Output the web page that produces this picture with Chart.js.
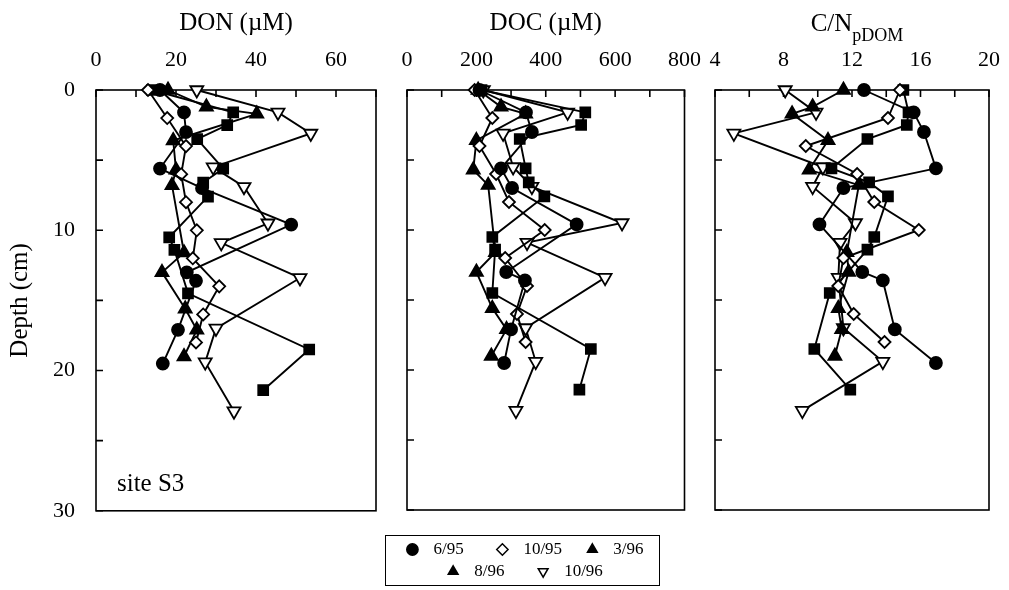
<!DOCTYPE html>
<html>
<head>
<meta charset="utf-8">
<script src="https://cdn.jsdelivr.net/npm/chart.js@4.4.0/dist/chart.umd.min.js"></script>
<style>
    body { margin: 0; background: #fff; width: 1009px; height: 590px; position: relative; overflow: hidden; }
    canvas.panel { position: absolute; top: 0; }
    #legendBox { position: absolute; left: 385px; top: 535px; width: 275px; height: 51px;
                 border: 1.5px solid #000; box-sizing: border-box; overflow: hidden; }
    #legendBox canvas { display: block; }
</style>
</head>
<body>
<canvas id="donChart" class="panel" style="left:0px" width="400" height="537"></canvas>
<canvas id="docChart" class="panel" style="left:380px" width="330" height="530"></canvas>
<canvas id="cnChart" class="panel" style="left:690px" width="319" height="530"></canvas>
<div id="legendBox"><canvas id="legendChart" width="276" height="140"></canvas></div>
<script>
// series labels
const seriesLabels = ['6/95', '10/95', '3/96', '8/96', '10/96'];

// depths (cm) per series
const depth695 = [0, 1.6, 3, 5.6, 7, 9.6, 13, 13.6, 17.1, 19.5];
const depth1095 = [0, 2, 4, 6, 8, 10, 12, 14, 16, 18];
const depth396 = [0, 1.6, 2.5, 3.5, 5.6, 6.6, 7.6, 10.5, 11.4, 14.5, 18.5, 21.4];
const depth896 = [0, 1.2, 1.7, 3.6, 5.7, 6.8, 11.6, 13, 15.6, 17.1, 19];
const depth1096 = [0, 1.6, 3.1, 5.5, 6.9, 9.5, 10.9, 13.4, 17, 19.4, 22.9];

// DON (uM)
const don695 = [16, 22, 22.5, 16, 26.5, 48.8, 22.7, 25, 20.5, 16.7];
const don1095 = [13, 17.8, 22.5, 21.3, 22.5, 25.2, 24.2, 30.8, 26.8, 25];
const don396 = [14, 34.3, 32.8, 25.3, 31.8, 26.8, 28, 18.3, 19.6, 23, 53.3, 41.8];
const don896 = [18, 27.6, 40.2, 19.3, 20, 19, 22, 16.5, 22.3, 25.2, 22];
const don1096 = [25.2, 45.5, 53.7, 29.3, 37, 43, 31.3, 51, 30, 27.3, 34.5];

// DOC (uM)
const doc695 = [209, 343, 360, 271, 303, 489, 286, 340, 300, 280];
const doc1095 = [195, 246, 209, 257, 294, 397, 283, 346, 317, 342];
const doc396 = [215, 514, 502, 325, 342, 351, 396, 246, 254, 246, 530, 497];
const doc896 = [205, 271, 342, 200, 191, 234, 255, 200, 246, 287, 243];
const doc1096 = [220, 463, 277, 306, 360, 620, 346, 571, 342, 371, 314];

// C/N pDOM
const cn695 = [12.7, 15.6, 16.2, 16.9, 11.5, 10.1, 12.6, 13.8, 14.5, 16.9];
const cn1095 = [14.8, 14.1, 9.3, 12.3, 13.3, 15.9, 11.5, 11.2, 12.1, 13.9];
const cn396 = [15, 15.3, 15.2, 12.9, 10.8, 13, 14.1, 13.3, 12.9, 10.7, 9.8, 11.9];
const cn896 = [11.5, 9.7, 8.5, 10.6, 9.5, 12.4, 11.7, 11.8, 11.2, 11.4, 11.0];
const cn1096 = [8.1, 9.9, 5.1, 10.3, 9.7, 12.2, 11.3, 11.2, 11.5, 13.8, 9.1];

// tick labels
const donTicks = [0, 20, 40, 60];
const docTicks = [0, 200, 400, 600, 800];
const cnTicks = [4, 8, 12, 16, 20];
const depthTicks = [0, 10, 20, 30];

const SERIF = '"Liberation Serif", "DejaVu Serif", serif';
const depths = [depth695, depth1095, depth396, depth896, depth1096];

// marker looks: circle, open diamond, square, triangle, open inverted triangle
const markers = [
    { style: 'circle', rot: 0, r: 6, fill: '#000' },
    { style: 'rectRot', rot: 0, r: 6, fill: '#fff' },
    { style: 'rect', rot: 0, r: 7, fill: '#000' },
    { style: 'triangle', rot: 0, r: 7.5, fill: '#000' },
    { style: 'triangle', rot: 180, r: 7.5, fill: '#fff' },
];

const frame = {
    id: 'frame',
    beforeDatasetsDraw(chart) {
        const { ctx, chartArea: a, scales: { x, y } } = chart;
        ctx.save();
        ctx.strokeStyle = '#000';
        ctx.lineWidth = 1.6;
        ctx.strokeRect(a.left, a.top, a.right - a.left, a.bottom - a.top);
        ctx.beginPath();
        x.ticks.forEach(t => {
            const px = x.getPixelForValue(t.value);
            ctx.moveTo(px, a.top);
            ctx.lineTo(px, a.top + 7);
        });
        y.ticks.forEach(t => {
            const py = y.getPixelForValue(t.value);
            ctx.moveTo(a.left, py);
            ctx.lineTo(a.left + 7, py);
        });
        ctx.stroke();
        ctx.restore();
    },
    afterDraw(chart) {
        const extra = chart.options.plugins.frame || {};
        const { ctx, chartArea: a } = chart;
        ctx.save();
        ctx.fillStyle = '#000';
        ctx.textBaseline = 'alphabetic';
        if (extra.note) {
            ctx.font = '25px ' + SERIF;
            ctx.fillText(extra.note, a.left + 21, a.bottom - 20);
        }
        if (extra.cnTitle) {
            ctx.font = '25px ' + SERIF;
            const w1 = ctx.measureText('C/N').width;
            ctx.font = '18px ' + SERIF;
            const w2 = ctx.measureText('pDOM').width;
            const start = (a.left + a.right) / 2 + 5 - (w1 + w2) / 2;
            ctx.font = '25px ' + SERIF;
            ctx.fillText('C/N', start, 31);
            ctx.font = '18px ' + SERIF;
            ctx.fillText('pDOM', start + w1, 41);
        }
        ctx.restore();
    }
};

function panel(id, values, xOpts) {
    return new Chart(document.getElementById(id), {
        type: 'scatter',
        data: {
            datasets: values.map((vals, i) => ({
                label: seriesLabels[i],
                data: vals.map((v, j) => ({ x: v, y: depths[i][j] })),
                showLine: true,
                clip: false,
                borderColor: '#000',
                borderWidth: 1.9,
                pointStyle: markers[i].style,
                pointRotation: markers[i].rot,
                pointRadius: markers[i].r,
                pointBackgroundColor: markers[i].fill,
                pointBorderColor: '#000',
                pointBorderWidth: 1.8,
            }))
        },
        options: {
            responsive: false,
            animation: false,
            layout: { padding: { left: 0, top: 0, right: xOpts.padRight, bottom: xOpts.padBottom } },
            plugins: {
                legend: { display: false },
                tooltip: { enabled: false },
                frame: { note: xOpts.note, cnTitle: xOpts.cnTitle },
            },
            scales: {
                x: {
                    type: 'linear',
                    position: 'top',
                    min: xOpts.min,
                    max: xOpts.max,
                    grid: { display: false },
                    border: { display: false },
                    ticks: {
                        stepSize: xOpts.step,
                        autoSkip: false,
                        maxRotation: 0,
                        padding: 9,
                        color: '#000',
                        font: { family: SERIF, size: 22 },
                        callback: v => xOpts.labels.includes(v) ? String(v) : '',
                    },
                    title: {
                        display: !!xOpts.title,
                        text: xOpts.title || '',
                        color: '#000',
                        font: { family: SERIF, size: 25 },
                        padding: { top: 8, bottom: 0 },
                    },
                    afterFit: s => { s.height = 90; },
                },
                y: {
                    type: 'linear',
                    reverse: true,
                    min: 0,
                    max: 30,
                    grid: { display: false },
                    border: { display: false },
                    ticks: {
                        stepSize: 5,
                        autoSkip: false,
                        display: xOpts.showY,
                        padding: 13,
                        color: '#000',
                        font: { family: SERIF, size: 22 },
                        callback: v => depthTicks.includes(v) ? String(v) : '',
                    },
                    title: {
                        display: xOpts.showY,
                        text: 'Depth (cm)',
                        color: '#000',
                        font: { family: SERIF, size: 25 },
                        padding: { top: 5, bottom: 0 },
                    },
                    afterFit: s => { s.width = xOpts.yWidth; },
                }
            }
        },
        plugins: [frame]
    });
}

panel('donChart', [don695, don1095, don396, don896, don1096], {
    min: 0, max: 70, step: 10, labels: donTicks, title: 'DON (µM)',
    showY: true, yWidth: 96, padRight: 24, padBottom: 20, note: 'site S3'
});
panel('docChart', [doc695, doc1095, doc396, doc896, doc1096], {
    min: 0, max: 800, step: 100, labels: docTicks, title: 'DOC (µM)',
    showY: false, yWidth: 27, padRight: 23, padBottom: 20
});
panel('cnChart', [cn695, cn1095, cn396, cn896, cn1096], {
    min: 4, max: 20, step: 2, labels: cnTicks, title: '',
    showY: false, yWidth: 25, padRight: 14, padBottom: 20, cnTitle: true
});

// legend: the printed key shows 3/96 with a triangle
const legendStyles = ['circle', 'rectRot', 'triangle', 'triangle', 'triangle'];
const legendRot = [0, 0, 0, 0, 180];
const legendGap = [7, 5, 0, 7, 0];

new Chart(document.getElementById('legendChart'), {
    type: 'scatter',
    data: {
        datasets: seriesLabels.map((lab, i) => ({
            label: lab,
            data: [],
            pointStyle: legendStyles[i],
            pointRotation: legendRot[i],
            backgroundColor: markers[i].fill,
            borderColor: '#000',
        }))
    },
    options: {
        responsive: false,
        animation: false,
        layout: { padding: { left: 4, top: 0, right: 0, bottom: 0 } },
        scales: { x: { display: false }, y: { display: false } },
        plugins: {
            tooltip: { enabled: false },
            legend: {
                position: 'top',
                labels: {
                    usePointStyle: true,
                    boxWidth: 8,
                    boxHeight: 8,
                    padding: 5,
                    color: '#000',
                    font: { family: SERIF, size: 17 },
                    generateLabels: chart => chart.data.datasets.map((ds, i) => ({
                        text: '  ' + ds.label + ' '.repeat(legendGap[i]),
                        fillStyle: ds.backgroundColor,
                        strokeStyle: '#000',
                        lineWidth: 1.5,
                        pointStyle: ds.pointStyle,
                        rotation: ds.pointRotation,
                        fontColor: '#000',
                        hidden: false,
                        datasetIndex: i,
                    })),
                }
            }
        }
    }
});
</script>
</body>
</html>
